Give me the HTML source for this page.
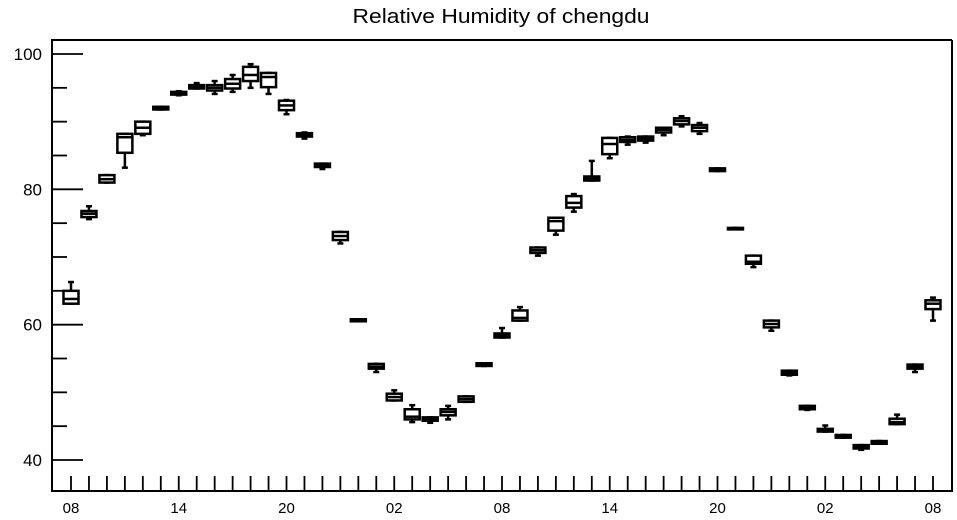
<!DOCTYPE html>
<html><head><meta charset="utf-8"><style>
body{margin:0;background:#fff;}
svg{display:block;font-family:"Liberation Sans",sans-serif;}
</style></head><body>
<svg id="chart" width="957" height="520">
<text x="501" y="23" text-anchor="middle" font-size="20" textLength="297" lengthAdjust="spacingAndGlyphs">Relative Humidity of chengdu</text>
<g id="axes"></g>
<g id="boxes"></g>
</svg>
<script>
const hourLabels = ["08","09","10","11","12","13","14","15","16","17","18","19","20","21","22","23","00","01","02","03","04","05","06","07","08","09","10","11","12","13","14","15","16","17","18","19","20","21","22","23","00","01","02","03","04","05","06","07","08"];
const medians = [63.8,76.4,81.5,87.7,89.1,92.0,94.2,95.2,95.0,95.6,96.9,96.6,92.4,88.1,83.6,73.1,60.7,53.8,49.3,46.4,46.0,47.1,49.0,54.1,58.4,61.0,71.0,75.3,78.0,81.6,86.7,87.3,87.5,88.8,90.1,89.1,82.9,74.2,69.3,60.1,52.9,47.8,44.4,43.5,42.0,42.6,45.6,53.8,63.1];
const q1s = [63.1,75.9,81.0,85.4,88.2,91.8,94.0,94.9,94.6,94.9,96.0,95.1,91.7,87.8,83.3,72.5,60.5,53.5,48.8,46.0,45.8,46.6,48.6,53.9,58.1,60.6,70.6,73.9,77.3,81.3,85.2,87.0,87.2,88.4,89.6,88.6,82.7,74.1,69.0,59.6,52.6,47.5,44.2,43.3,41.7,42.4,45.3,53.5,62.3];
const q3s = [65.0,76.8,82.1,88.2,90.0,92.2,94.4,95.4,95.4,96.3,98.1,97.2,93.1,88.3,83.8,73.7,60.8,54.2,49.8,47.5,46.3,47.5,49.4,54.3,58.7,62.1,71.4,75.8,79.0,81.9,87.6,87.7,87.8,89.1,90.5,89.5,83.1,74.3,70.2,60.6,53.2,48.0,44.6,43.7,42.2,42.8,46.1,54.1,63.6];
const mins = [63.1,75.6,81.0,83.2,88.0,91.8,93.9,94.9,94.1,94.4,95.0,94.1,91.1,87.5,83.0,72.0,60.5,53.0,48.8,45.6,45.5,46.0,48.6,53.9,58.1,60.6,70.2,73.3,76.7,81.3,84.6,86.6,86.9,88.0,89.3,88.2,82.7,74.1,68.5,59.1,52.5,47.4,44.2,43.3,41.5,42.4,45.3,53.0,60.6];
const maxs = [66.3,77.5,82.1,88.2,90.0,92.2,94.5,95.7,96.0,96.9,98.5,97.2,93.2,88.4,83.8,73.7,60.8,54.2,50.3,48.1,46.3,48.0,49.4,54.3,59.5,62.6,71.4,75.8,79.3,84.2,87.6,87.8,87.8,89.1,90.8,89.8,83.1,74.3,70.2,60.6,53.2,48.0,45.1,43.7,42.2,42.8,46.7,54.1,64.0];
const yTicks = [40,45,50,55,60,65,70,75,80,85,90,95,100];
const yLabels = [40,60,80,100];

const NS="http://www.w3.org/2000/svg";
const L=52,R=952,T=40,B=491;
const x=i=>71+i*(933-71)/48;
const y=v=>460-(v-40)*(460-54)/60;
function mk(tag,attrs,parent){const e=document.createElementNS(NS,tag);for(const k in attrs)e.setAttribute(k,attrs[k]);parent.appendChild(e);return e;}
const ax=document.getElementById('axes');
const frame=mk('path',{d:`M${R},${T}H${L}V${B}H${R}V${T}`,fill:'none',stroke:'#000','stroke-width':2},ax);


yTicks.forEach(v=>{
  const major=yLabels.includes(v);
  const t=mk('line',{x1:L,x2:L+(major?31:15),y1:y(v),y2:y(v),stroke:'#000','stroke-width':1.8},ax);
  
  
  if(major){
    const tx=mk('text',{x:42,y:y(v)+6,'text-anchor':'end','font-size':17},ax);
    tx.textContent=v;
    
    
  }
});
hourLabels.forEach((h,i)=>{
  const t=mk('line',{x1:x(i),x2:x(i),y1:B,y2:B-15,stroke:'#000','stroke-width':1.8},ax);
  
  
  if(i%6===0){
    const tx=mk('text',{x:x(i),y:513,'text-anchor':'middle','font-size':15},ax);
    tx.textContent=h;
    
    
  }
});
const bx=document.getElementById('boxes');
medians.forEach((m,i)=>{
  const g=mk('g',{stroke:'#000','stroke-width':2.5,fill:'none'},bx);
  
  
  const cx=x(i),w=15;
  mk('line',{x1:cx,x2:cx,y1:y(maxs[i]),y2:y(q3s[i])},g);
  mk('line',{x1:cx,x2:cx,y1:y(q1s[i]),y2:y(mins[i])},g);
  mk('line',{x1:cx-3,x2:cx+3,y1:y(maxs[i]),y2:y(maxs[i])},g);
  mk('line',{x1:cx-3,x2:cx+3,y1:y(mins[i]),y2:y(mins[i])},g);
  const top=y(q3s[i]),h=Math.max(y(q1s[i])-top,1.5);
  mk('rect',{x:cx-w/2,y:top,width:w,height:h,fill:'#fff'},g);
  mk('line',{x1:cx-w/2,x2:cx+w/2,y1:y(m),y2:y(m)},g);
});
</script>
</body></html>
